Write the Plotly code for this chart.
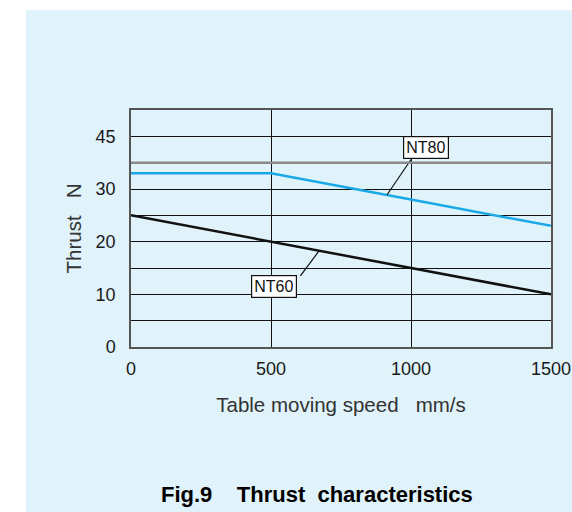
import numpy as np
import plotly.graph_objects as go

# Thrust vs. table moving speed for the two models
speed = [0, 500, 1000, 1500]
thrust_nt80 = [33, 33, 28, 23]
thrust_nt60 = [25, 20, 15, 10]

# y tick labels as printed on the chart
y_tickvals = [0, 10, 20, 30, 40]
y_ticktext = ["0", "10", "20", "30", "45"]
x_tickvals = [0, 500, 1000, 1500]

# callout labels: (text, label x, label y, leader start x, leader start y, leader end x on curve)
callouts = [
    ("NT80", 1055, 37.8, 1000, 35.6, 914, thrust_nt80),
    ("NT60", 510, 11.4, 605, 13.5, 672, thrust_nt60),
]

W, H = 572, 512
ML, MR, MT, MB = 131, 21, 110, 165
PW, PH = W - ML - MR, H - MT - MB

FONT = "Liberation Sans, Arial, sans-serif"
BG = "#E0F2FA"

fig = go.Figure()

fig.add_trace(go.Scatter(x=speed, y=thrust_nt80, mode="lines",
                         line=dict(color="#1AA9E6", width=2.5),
                         showlegend=False, hoverinfo="skip"))
fig.add_trace(go.Scatter(x=speed, y=thrust_nt60, mode="lines",
                         line=dict(color="#111111", width=2.5),
                         showlegend=False, hoverinfo="skip"))


def px_x(p):
    return (p - ML) / PW


def px_y(p):
    return (H - MB - p) / PH


# light blue panel behind the whole chart
fig.add_shape(type="rect", xref="paper", yref="paper",
              x0=px_x(26), x1=px_x(W + 2), y0=px_y(H + 2), y1=px_y(10),
              fillcolor=BG, line=dict(width=0), layer="below")

# heavier grey grid line at 35 N
fig.add_shape(type="line", xref="paper", yref="y", x0=0, x1=1, y0=35, y1=35,
              line=dict(color="#8a8a8a", width=2.5), layer="above")

# leader lines from each label to its curve
for text, lx, ly, sx, sy, ex, series in callouts:
    ey = float(np.interp(ex, speed, series))
    fig.add_trace(go.Scatter(x=[sx, ex], y=[sy, ey], mode="lines",
                             line=dict(color="#111111", width=1.2),
                             showlegend=False, hoverinfo="skip"))
    fig.add_annotation(x=lx, y=ly, xref="x", yref="y", text=text,
                       showarrow=False, bgcolor="white",
                       bordercolor="#111111", borderwidth=1.2, borderpad=2,
                       font=dict(family=FONT, size=16, color="#111111"))

fig.add_annotation(xref="paper", yref="paper", x=px_x(317), y=px_y(494),
                   text="<b>Fig.9\u00a0\u00a0\u00a0\u00a0Thrust\u00a0\u00a0characteristics</b>",
                   showarrow=False, xanchor="center", yanchor="middle",
                   font=dict(family=FONT, size=22, color="#000000"))

fig.update_layout(
    width=W, height=H,
    margin=dict(l=ML, r=MR, t=MT, b=MB, pad=0),
    paper_bgcolor="white", plot_bgcolor="white",
    font=dict(family=FONT, size=18, color="#1a1a1a"),
    xaxis=dict(range=[0, 1500], tickvals=x_tickvals, ticks="", automargin=False,
               showgrid=True, gridcolor="#111111", gridwidth=1,
               showline=True, linecolor="#555555", linewidth=1.5, mirror=True,
               zeroline=False, ticklabelstandoff=5,
               title=dict(text="Table moving speed\u00a0\u00a0\u00a0mm/s",
                          font=dict(size=20.5, color="#333333"), standoff=19)),
    yaxis=dict(range=[0, 45], tickvals=y_tickvals, ticktext=y_ticktext, ticks="",
               automargin=False,
               showgrid=True, gridcolor="#111111", gridwidth=1,
               minor=dict(dtick=5, tick0=0, showgrid=True, gridcolor="#111111", gridwidth=1),
               showline=True, linecolor="#555555", linewidth=1.5, mirror=True,
               zeroline=False, ticklabelstandoff=10,
               title=dict(text="Thrust\u00a0\u00a0\u00a0N",
                          font=dict(size=20.5, color="#333333"), standoff=8)),
)

fig.write_html("out.html")
